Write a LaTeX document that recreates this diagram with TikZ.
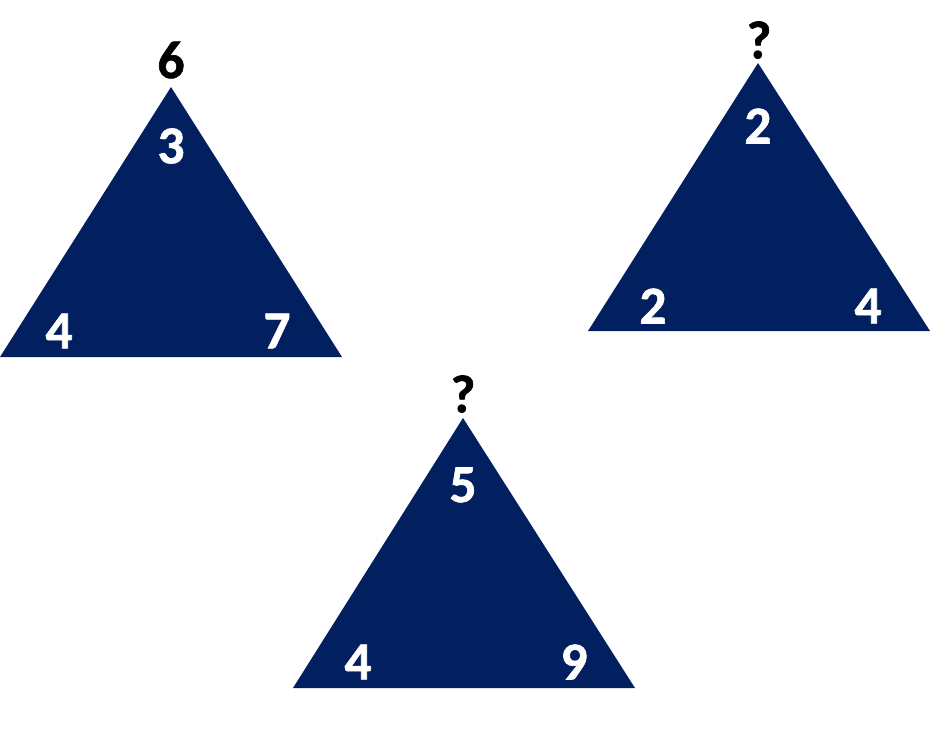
\documentclass[tikz,border=0pt]{standalone}
\usepackage{fontspec}
\setmainfont{Carlito}[BoldFeatures={FakeBold=1.2}]
\definecolor{navy}{RGB}{2,32,96}
\tikzset{
  num/.style={font=\fontsize{40}{40}\selectfont\bfseries, text=white, inner sep=0pt},
  top/.style={font=\fontsize{40}{40}\selectfont\bfseries, text=black, inner sep=0pt}
}
\begin{document}
\begin{tikzpicture}[x=0.75pt,y=-0.75pt]
\useasboundingbox (0,0) rectangle (933,746);
% left triangle
\fill[navy] (171,87) -- (342,357) -- (0,357) -- cycle;
\node[top] (aTop) at (171,60) {6};
\node[num] (aUp) at (171,146) {3};
\node[num] (aLeft) at (59,331) {4};
\node[num] (aRight) at (277,331) {7};
% right triangle
\fill[navy] (758,63) -- (930,331) -- (588,331) -- cycle;
\node[top] (bTop) at (759,40) {?};
\node[num] (bUp) at (758,126) {2};
\node[num] (bLeft) at (653,306) {2};
\node[num] (bRight) at (868,306) {4};
% bottom triangle
\fill[navy] (463,418) -- (635,688) -- (293,688) -- cycle;
\node[top] (cTop) at (463,394) {?};
\node[num] (cUp) at (463,485) {5};
\node[num] (cLeft) at (358,662) {4};
\node[num] (cRight) at (574,662) {9};
\end{tikzpicture}
\end{document}
